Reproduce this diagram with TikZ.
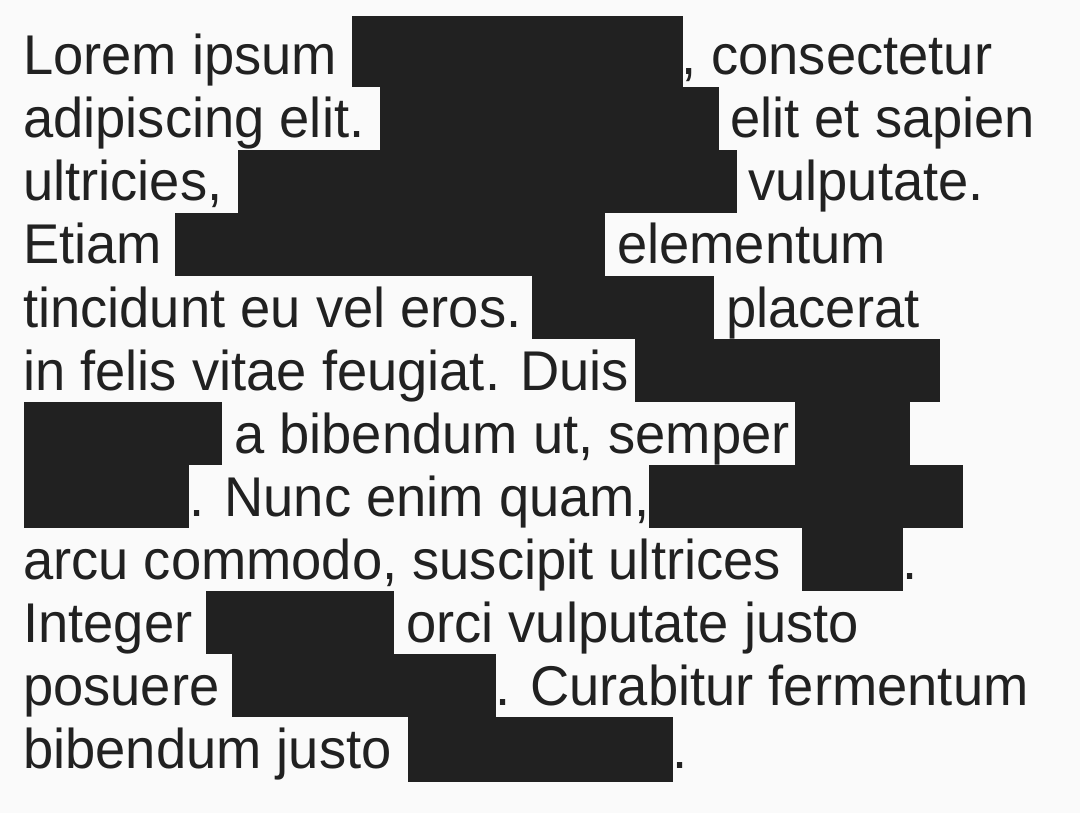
\documentclass[tikz,border=0pt]{standalone}
\usepackage{fontspec}
\setmainfont{Liberation Sans}[FakeStretch=0.97]
\definecolor{ink}{HTML}{212121}
\definecolor{paper}{HTML}{FAFAFA}
\begin{document}
\begin{tikzpicture}[x=1pt,y=-1pt,%
% common options for the words:
txt/.style = {anchor=base west, inner sep=0, text=ink,
            font=\fontsize{56}{63}\selectfont},
% common options for the black bars:
bar/.style = {fill=ink}]
\fill[paper] (0,0) rectangle (1080,813);
\useasboundingbox (0,0) rectangle (1080,813);
% bars
\fill[bar] (352,16) rectangle (683,87);
\fill[bar] (380,87) rectangle (719,150);
\fill[bar] (238,150) rectangle (737,213);
\fill[bar] (175,213) rectangle (605,276);
\fill[bar] (532,276) rectangle (714,339);
\fill[bar] (635,339) rectangle (940,402);
\fill[bar] (24,402) rectangle (222,465);
\fill[bar] (795,402) rectangle (910,465);
\fill[bar] (24,465) rectangle (189,528);
\fill[bar] (649,465) rectangle (963,528);
\fill[bar] (802,528) rectangle (903,591);
\fill[bar] (206,591) rectangle (394,654);
\fill[bar] (232,654) rectangle (496,717);
\fill[bar] (408,717) rectangle (673,782);
% words
\node[txt] (A1) at (23,75) {Lorem ipsum};
\node[txt] (B1) at (681,75) {, consectetur};
\node[txt] (A2) at (23,138) {adipiscing elit.};
\node[txt] (B2) at (730,138) {elit et sapien};
\node[txt] (A3) at (23,201) {ultricies,};
\node[txt] (B3) at (748,201) {vulputate.};
\node[txt] (A4) at (23,264) {Etiam};
\node[txt] (B4) at (617,264) {elementum};
\node[txt] (A5) at (23,327) {tincidunt eu vel eros.};
\node[txt] (B5) at (726,327) {placerat};
\node[txt] (A6) at (23,390) {in felis vitae feugiat. Duis};
\node[txt] (B7) at (234,453) {a bibendum ut, semper};
\node[txt] (B8) at (189,516) {. Nunc enim quam,};
\node[txt] (A9) at (23,579) {arcu commodo, suscipit ultrices};
\node[txt] (B9) at (902,579) {.};
\node[txt] (A10) at (23,642) {Integer};
\node[txt] (B10) at (406,642) {orci vulputate justo};
\node[txt] (A11) at (23,705) {posuere};
\node[txt] (B11) at (495,705) {. Curabitur fermentum};
\node[txt] (A12) at (23,768) {bibendum justo};
\node[txt] (B12) at (672,768) {.};
\end{tikzpicture}
\end{document}
